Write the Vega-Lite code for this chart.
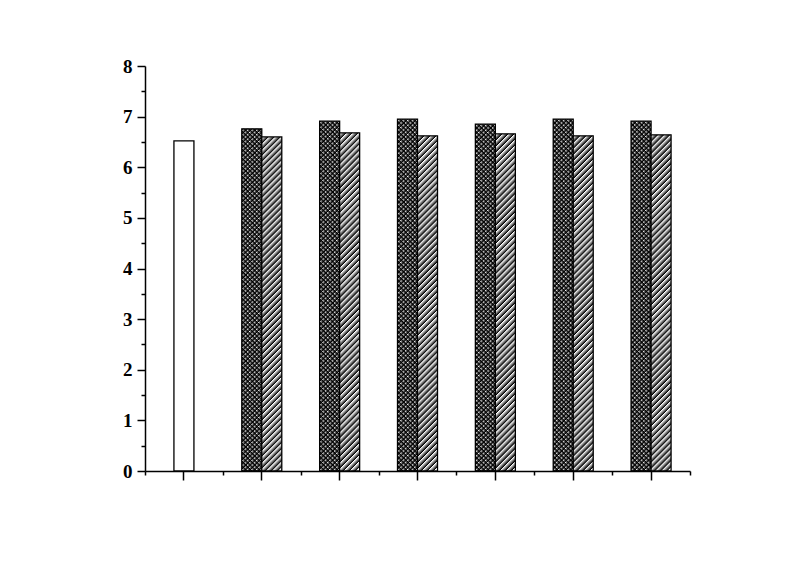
{
"$schema": "https://vega.github.io/schema/vega-lite/v6.json",
"width": 545,
"height": 405,
"autosize": {"type": "none"},
"padding": {"left": 145, "top": 66, "right": 110, "bottom": 94},
"background": "white",
"config": {
  "view": {"stroke": null},
  "axis": {"grid": false, "domainColor": "#000", "tickColor": "#000", "domainWidth": 1.5, "tickWidth": 1.5, "labelColor": "#000", "labelFont": "Liberation Serif", "labelFontWeight": "bold", "labelFontSize": 19}
},
"data": {"values": [
  {"group": "g1", "series": "A", "value": 6.52},
  {"group": "g2", "series": "B", "value": 6.76},
  {"group": "g2", "series": "C", "value": 6.60},
  {"group": "g3", "series": "B", "value": 6.91},
  {"group": "g3", "series": "C", "value": 6.68},
  {"group": "g4", "series": "B", "value": 6.95},
  {"group": "g4", "series": "C", "value": 6.62},
  {"group": "g5", "series": "B", "value": 6.85},
  {"group": "g5", "series": "C", "value": 6.66},
  {"group": "g6", "series": "B", "value": 6.95},
  {"group": "g6", "series": "C", "value": 6.62},
  {"group": "g7", "series": "B", "value": 6.91},
  {"group": "g7", "series": "C", "value": 6.64}
]},
"layer": [
  {
    "transform": [{"filter": "datum.series === 'A'"}],
    "mark": {"type": "bar", "width": 20, "fill": "white", "stroke": "black", "strokeWidth": 1.3},
    "encoding": {
      "x": {"field": "group", "type": "nominal", "scale": {"paddingInner": 0, "paddingOuter": 0}, "axis": {"orient": "bottom", "labels": false, "tickSize": 9, "title": null}},
      "y": {"field": "value", "type": "quantitative", "scale": {"domain": [0, 8], "nice": false}, "axis": {"orient": "left", "values": [0,1,2,3,4,5,6,7,8], "tickSize": 8, "labelPadding": 5, "title": null}}
    }
  },
  {
    "transform": [{"filter": "datum.series === 'B'"}],
    "mark": {"type": "bar", "width": 20, "xOffset": -10, "stroke": null,
      "fill": {"gradient": "linear", "x1": 0, "y1": 0, "x2": 0.0608, "y2": 1.0542, "stops": [
{"offset":0,"color":"transparent"},
{"offset":0.003,"color":"#000"},{"offset":0.006,"color":"transparent"},{"offset":0.0155,"color":"#000"},{"offset":0.0185,"color":"transparent"},{"offset":0.028,"color":"#000"},{"offset":0.031,"color":"transparent"},{"offset":0.0405,"color":"#000"},{"offset":0.0435,"color":"transparent"},{"offset":0.053,"color":"#000"},{"offset":0.056,"color":"transparent"},{"offset":0.0655,"color":"#000"},{"offset":0.0685,"color":"transparent"},{"offset":0.078,"color":"#000"},{"offset":0.081,"color":"transparent"},{"offset":0.0905,"color":"#000"},{"offset":0.0935,"color":"transparent"},
{"offset":0.103,"color":"#000"},{"offset":0.106,"color":"transparent"},{"offset":0.1155,"color":"#000"},{"offset":0.1185,"color":"transparent"},{"offset":0.128,"color":"#000"},{"offset":0.131,"color":"transparent"},{"offset":0.1405,"color":"#000"},{"offset":0.1435,"color":"transparent"},{"offset":0.153,"color":"#000"},{"offset":0.156,"color":"transparent"},{"offset":0.1655,"color":"#000"},{"offset":0.1685,"color":"transparent"},{"offset":0.178,"color":"#000"},{"offset":0.181,"color":"transparent"},{"offset":0.1905,"color":"#000"},{"offset":0.1935,"color":"transparent"},
{"offset":0.203,"color":"#000"},{"offset":0.206,"color":"transparent"},{"offset":0.2155,"color":"#000"},{"offset":0.2185,"color":"transparent"},{"offset":0.228,"color":"#000"},{"offset":0.231,"color":"transparent"},{"offset":0.2405,"color":"#000"},{"offset":0.2435,"color":"transparent"},{"offset":0.253,"color":"#000"},{"offset":0.256,"color":"transparent"},{"offset":0.2655,"color":"#000"},{"offset":0.2685,"color":"transparent"},{"offset":0.278,"color":"#000"},{"offset":0.281,"color":"transparent"},{"offset":0.2905,"color":"#000"},{"offset":0.2935,"color":"transparent"},
{"offset":0.303,"color":"#000"},{"offset":0.306,"color":"transparent"},{"offset":0.3155,"color":"#000"},{"offset":0.3185,"color":"transparent"},{"offset":0.328,"color":"#000"},{"offset":0.331,"color":"transparent"},{"offset":0.3405,"color":"#000"},{"offset":0.3435,"color":"transparent"},{"offset":0.353,"color":"#000"},{"offset":0.356,"color":"transparent"},{"offset":0.3655,"color":"#000"},{"offset":0.3685,"color":"transparent"},{"offset":0.378,"color":"#000"},{"offset":0.381,"color":"transparent"},{"offset":0.3905,"color":"#000"},{"offset":0.3935,"color":"transparent"},
{"offset":0.403,"color":"#000"},{"offset":0.406,"color":"transparent"},{"offset":0.4155,"color":"#000"},{"offset":0.4185,"color":"transparent"},{"offset":0.428,"color":"#000"},{"offset":0.431,"color":"transparent"},{"offset":0.4405,"color":"#000"},{"offset":0.4435,"color":"transparent"},{"offset":0.453,"color":"#000"},{"offset":0.456,"color":"transparent"},{"offset":0.4655,"color":"#000"},{"offset":0.4685,"color":"transparent"},{"offset":0.478,"color":"#000"},{"offset":0.481,"color":"transparent"},{"offset":0.4905,"color":"#000"},{"offset":0.4935,"color":"transparent"},
{"offset":0.503,"color":"#000"},{"offset":0.506,"color":"transparent"},{"offset":0.5155,"color":"#000"},{"offset":0.5185,"color":"transparent"},{"offset":0.528,"color":"#000"},{"offset":0.531,"color":"transparent"},{"offset":0.5405,"color":"#000"},{"offset":0.5435,"color":"transparent"},{"offset":0.553,"color":"#000"},{"offset":0.556,"color":"transparent"},{"offset":0.5655,"color":"#000"},{"offset":0.5685,"color":"transparent"},{"offset":0.578,"color":"#000"},{"offset":0.581,"color":"transparent"},{"offset":0.5905,"color":"#000"},{"offset":0.5935,"color":"transparent"},
{"offset":0.603,"color":"#000"},{"offset":0.606,"color":"transparent"},{"offset":0.6155,"color":"#000"},{"offset":0.6185,"color":"transparent"},{"offset":0.628,"color":"#000"},{"offset":0.631,"color":"transparent"},{"offset":0.6405,"color":"#000"},{"offset":0.6435,"color":"transparent"},{"offset":0.653,"color":"#000"},{"offset":0.656,"color":"transparent"},{"offset":0.6655,"color":"#000"},{"offset":0.6685,"color":"transparent"},{"offset":0.678,"color":"#000"},{"offset":0.681,"color":"transparent"},{"offset":0.6905,"color":"#000"},{"offset":0.6935,"color":"transparent"},
{"offset":0.703,"color":"#000"},{"offset":0.706,"color":"transparent"},{"offset":0.7155,"color":"#000"},{"offset":0.7185,"color":"transparent"},{"offset":0.728,"color":"#000"},{"offset":0.731,"color":"transparent"},{"offset":0.7405,"color":"#000"},{"offset":0.7435,"color":"transparent"},{"offset":0.753,"color":"#000"},{"offset":0.756,"color":"transparent"},{"offset":0.7655,"color":"#000"},{"offset":0.7685,"color":"transparent"},{"offset":0.778,"color":"#000"},{"offset":0.781,"color":"transparent"},{"offset":0.7905,"color":"#000"},{"offset":0.7935,"color":"transparent"},
{"offset":0.803,"color":"#000"},{"offset":0.806,"color":"transparent"},{"offset":0.8155,"color":"#000"},{"offset":0.8185,"color":"transparent"},{"offset":0.828,"color":"#000"},{"offset":0.831,"color":"transparent"},{"offset":0.8405,"color":"#000"},{"offset":0.8435,"color":"transparent"},{"offset":0.853,"color":"#000"},{"offset":0.856,"color":"transparent"},{"offset":0.8655,"color":"#000"},{"offset":0.8685,"color":"transparent"},{"offset":0.878,"color":"#000"},{"offset":0.881,"color":"transparent"},{"offset":0.8905,"color":"#000"},{"offset":0.8935,"color":"transparent"},
{"offset":0.903,"color":"#000"},{"offset":0.906,"color":"transparent"},{"offset":0.9155,"color":"#000"},{"offset":0.9185,"color":"transparent"},{"offset":0.928,"color":"#000"},{"offset":0.931,"color":"transparent"},{"offset":0.9405,"color":"#000"},{"offset":0.9435,"color":"transparent"},{"offset":0.953,"color":"#000"},{"offset":0.956,"color":"transparent"},{"offset":0.9655,"color":"#000"},{"offset":0.9685,"color":"transparent"},{"offset":0.978,"color":"#000"},{"offset":0.981,"color":"transparent"},{"offset":0.9905,"color":"#000"},{"offset":0.9935,"color":"transparent"}
      ]}},
    "encoding": {
      "x": {"field": "group", "type": "nominal", "axis": {"orient": "bottom", "labels": false, "tickSize": 4, "tickBand": "extent", "domain": false, "title": null}},
      "y": {"field": "value", "type": "quantitative", "axis": {"orient": "left", "values": [0.5,1.5,2.5,3.5,4.5,5.5,6.5,7.5], "tickSize": 4, "labels": false, "domain": false, "title": null}}
    }
  },
  {
    "transform": [{"filter": "datum.series === 'B'"}],
    "mark": {"type": "bar", "width": 20, "xOffset": -10, "stroke": "black", "strokeWidth": 1.3,
      "fill": {"gradient": "linear", "x1": 0, "y1": 1, "x2": 0.0608, "y2": -0.0542, "stops": [
{"offset":0,"color":"transparent"},
{"offset":0.003,"color":"#000"},{"offset":0.006,"color":"transparent"},{"offset":0.0155,"color":"#000"},{"offset":0.0185,"color":"transparent"},{"offset":0.028,"color":"#000"},{"offset":0.031,"color":"transparent"},{"offset":0.0405,"color":"#000"},{"offset":0.0435,"color":"transparent"},{"offset":0.053,"color":"#000"},{"offset":0.056,"color":"transparent"},{"offset":0.0655,"color":"#000"},{"offset":0.0685,"color":"transparent"},{"offset":0.078,"color":"#000"},{"offset":0.081,"color":"transparent"},{"offset":0.0905,"color":"#000"},{"offset":0.0935,"color":"transparent"},
{"offset":0.103,"color":"#000"},{"offset":0.106,"color":"transparent"},{"offset":0.1155,"color":"#000"},{"offset":0.1185,"color":"transparent"},{"offset":0.128,"color":"#000"},{"offset":0.131,"color":"transparent"},{"offset":0.1405,"color":"#000"},{"offset":0.1435,"color":"transparent"},{"offset":0.153,"color":"#000"},{"offset":0.156,"color":"transparent"},{"offset":0.1655,"color":"#000"},{"offset":0.1685,"color":"transparent"},{"offset":0.178,"color":"#000"},{"offset":0.181,"color":"transparent"},{"offset":0.1905,"color":"#000"},{"offset":0.1935,"color":"transparent"},
{"offset":0.203,"color":"#000"},{"offset":0.206,"color":"transparent"},{"offset":0.2155,"color":"#000"},{"offset":0.2185,"color":"transparent"},{"offset":0.228,"color":"#000"},{"offset":0.231,"color":"transparent"},{"offset":0.2405,"color":"#000"},{"offset":0.2435,"color":"transparent"},{"offset":0.253,"color":"#000"},{"offset":0.256,"color":"transparent"},{"offset":0.2655,"color":"#000"},{"offset":0.2685,"color":"transparent"},{"offset":0.278,"color":"#000"},{"offset":0.281,"color":"transparent"},{"offset":0.2905,"color":"#000"},{"offset":0.2935,"color":"transparent"},
{"offset":0.303,"color":"#000"},{"offset":0.306,"color":"transparent"},{"offset":0.3155,"color":"#000"},{"offset":0.3185,"color":"transparent"},{"offset":0.328,"color":"#000"},{"offset":0.331,"color":"transparent"},{"offset":0.3405,"color":"#000"},{"offset":0.3435,"color":"transparent"},{"offset":0.353,"color":"#000"},{"offset":0.356,"color":"transparent"},{"offset":0.3655,"color":"#000"},{"offset":0.3685,"color":"transparent"},{"offset":0.378,"color":"#000"},{"offset":0.381,"color":"transparent"},{"offset":0.3905,"color":"#000"},{"offset":0.3935,"color":"transparent"},
{"offset":0.403,"color":"#000"},{"offset":0.406,"color":"transparent"},{"offset":0.4155,"color":"#000"},{"offset":0.4185,"color":"transparent"},{"offset":0.428,"color":"#000"},{"offset":0.431,"color":"transparent"},{"offset":0.4405,"color":"#000"},{"offset":0.4435,"color":"transparent"},{"offset":0.453,"color":"#000"},{"offset":0.456,"color":"transparent"},{"offset":0.4655,"color":"#000"},{"offset":0.4685,"color":"transparent"},{"offset":0.478,"color":"#000"},{"offset":0.481,"color":"transparent"},{"offset":0.4905,"color":"#000"},{"offset":0.4935,"color":"transparent"},
{"offset":0.503,"color":"#000"},{"offset":0.506,"color":"transparent"},{"offset":0.5155,"color":"#000"},{"offset":0.5185,"color":"transparent"},{"offset":0.528,"color":"#000"},{"offset":0.531,"color":"transparent"},{"offset":0.5405,"color":"#000"},{"offset":0.5435,"color":"transparent"},{"offset":0.553,"color":"#000"},{"offset":0.556,"color":"transparent"},{"offset":0.5655,"color":"#000"},{"offset":0.5685,"color":"transparent"},{"offset":0.578,"color":"#000"},{"offset":0.581,"color":"transparent"},{"offset":0.5905,"color":"#000"},{"offset":0.5935,"color":"transparent"},
{"offset":0.603,"color":"#000"},{"offset":0.606,"color":"transparent"},{"offset":0.6155,"color":"#000"},{"offset":0.6185,"color":"transparent"},{"offset":0.628,"color":"#000"},{"offset":0.631,"color":"transparent"},{"offset":0.6405,"color":"#000"},{"offset":0.6435,"color":"transparent"},{"offset":0.653,"color":"#000"},{"offset":0.656,"color":"transparent"},{"offset":0.6655,"color":"#000"},{"offset":0.6685,"color":"transparent"},{"offset":0.678,"color":"#000"},{"offset":0.681,"color":"transparent"},{"offset":0.6905,"color":"#000"},{"offset":0.6935,"color":"transparent"},
{"offset":0.703,"color":"#000"},{"offset":0.706,"color":"transparent"},{"offset":0.7155,"color":"#000"},{"offset":0.7185,"color":"transparent"},{"offset":0.728,"color":"#000"},{"offset":0.731,"color":"transparent"},{"offset":0.7405,"color":"#000"},{"offset":0.7435,"color":"transparent"},{"offset":0.753,"color":"#000"},{"offset":0.756,"color":"transparent"},{"offset":0.7655,"color":"#000"},{"offset":0.7685,"color":"transparent"},{"offset":0.778,"color":"#000"},{"offset":0.781,"color":"transparent"},{"offset":0.7905,"color":"#000"},{"offset":0.7935,"color":"transparent"},
{"offset":0.803,"color":"#000"},{"offset":0.806,"color":"transparent"},{"offset":0.8155,"color":"#000"},{"offset":0.8185,"color":"transparent"},{"offset":0.828,"color":"#000"},{"offset":0.831,"color":"transparent"},{"offset":0.8405,"color":"#000"},{"offset":0.8435,"color":"transparent"},{"offset":0.853,"color":"#000"},{"offset":0.856,"color":"transparent"},{"offset":0.8655,"color":"#000"},{"offset":0.8685,"color":"transparent"},{"offset":0.878,"color":"#000"},{"offset":0.881,"color":"transparent"},{"offset":0.8905,"color":"#000"},{"offset":0.8935,"color":"transparent"},
{"offset":0.903,"color":"#000"},{"offset":0.906,"color":"transparent"},{"offset":0.9155,"color":"#000"},{"offset":0.9185,"color":"transparent"},{"offset":0.928,"color":"#000"},{"offset":0.931,"color":"transparent"},{"offset":0.9405,"color":"#000"},{"offset":0.9435,"color":"transparent"},{"offset":0.953,"color":"#000"},{"offset":0.956,"color":"transparent"},{"offset":0.9655,"color":"#000"},{"offset":0.9685,"color":"transparent"},{"offset":0.978,"color":"#000"},{"offset":0.981,"color":"transparent"},{"offset":0.9905,"color":"#000"},{"offset":0.9935,"color":"transparent"}
      ]}},
    "encoding": {
      "x": {"field": "group", "type": "nominal", "axis": null},
      "y": {"field": "value", "type": "quantitative", "axis": null}
    }
  },
  {
    "transform": [{"filter": "datum.series === 'C'"}],
    "mark": {"type": "bar", "width": 20, "xOffset": 10, "stroke": "black", "strokeWidth": 1.3,
      "fill": {"gradient": "linear", "x1": 0, "y1": 0, "x2": 0.0628, "y2": 1.0558, "stops": [
{"offset":0,"color":"white"},
{"offset":0.002,"color":"#000"},{"offset":0.004,"color":"white"},{"offset":0.019,"color":"#000"},{"offset":0.021,"color":"white"},{"offset":0.036,"color":"#000"},{"offset":0.038,"color":"white"},{"offset":0.053,"color":"#000"},{"offset":0.055,"color":"white"},{"offset":0.07,"color":"#000"},{"offset":0.072,"color":"white"},{"offset":0.087,"color":"#000"},{"offset":0.089,"color":"white"},
{"offset":0.104,"color":"#000"},{"offset":0.106,"color":"white"},{"offset":0.121,"color":"#000"},{"offset":0.123,"color":"white"},{"offset":0.138,"color":"#000"},{"offset":0.14,"color":"white"},{"offset":0.155,"color":"#000"},{"offset":0.157,"color":"white"},{"offset":0.172,"color":"#000"},{"offset":0.174,"color":"white"},{"offset":0.189,"color":"#000"},{"offset":0.191,"color":"white"},
{"offset":0.206,"color":"#000"},{"offset":0.208,"color":"white"},{"offset":0.223,"color":"#000"},{"offset":0.225,"color":"white"},{"offset":0.24,"color":"#000"},{"offset":0.242,"color":"white"},{"offset":0.257,"color":"#000"},{"offset":0.259,"color":"white"},{"offset":0.274,"color":"#000"},{"offset":0.276,"color":"white"},{"offset":0.291,"color":"#000"},{"offset":0.293,"color":"white"},
{"offset":0.308,"color":"#000"},{"offset":0.31,"color":"white"},{"offset":0.325,"color":"#000"},{"offset":0.327,"color":"white"},{"offset":0.342,"color":"#000"},{"offset":0.344,"color":"white"},{"offset":0.359,"color":"#000"},{"offset":0.361,"color":"white"},{"offset":0.376,"color":"#000"},{"offset":0.378,"color":"white"},{"offset":0.393,"color":"#000"},{"offset":0.395,"color":"white"},
{"offset":0.41,"color":"#000"},{"offset":0.412,"color":"white"},{"offset":0.427,"color":"#000"},{"offset":0.429,"color":"white"},{"offset":0.444,"color":"#000"},{"offset":0.446,"color":"white"},{"offset":0.461,"color":"#000"},{"offset":0.463,"color":"white"},{"offset":0.478,"color":"#000"},{"offset":0.48,"color":"white"},{"offset":0.495,"color":"#000"},{"offset":0.497,"color":"white"},
{"offset":0.512,"color":"#000"},{"offset":0.514,"color":"white"},{"offset":0.529,"color":"#000"},{"offset":0.531,"color":"white"},{"offset":0.546,"color":"#000"},{"offset":0.548,"color":"white"},{"offset":0.563,"color":"#000"},{"offset":0.565,"color":"white"},{"offset":0.58,"color":"#000"},{"offset":0.582,"color":"white"},{"offset":0.597,"color":"#000"},{"offset":0.599,"color":"white"},
{"offset":0.614,"color":"#000"},{"offset":0.616,"color":"white"},{"offset":0.631,"color":"#000"},{"offset":0.633,"color":"white"},{"offset":0.648,"color":"#000"},{"offset":0.65,"color":"white"},{"offset":0.665,"color":"#000"},{"offset":0.667,"color":"white"},{"offset":0.682,"color":"#000"},{"offset":0.684,"color":"white"},{"offset":0.699,"color":"#000"},{"offset":0.701,"color":"white"},
{"offset":0.716,"color":"#000"},{"offset":0.718,"color":"white"},{"offset":0.733,"color":"#000"},{"offset":0.735,"color":"white"},{"offset":0.75,"color":"#000"},{"offset":0.752,"color":"white"},{"offset":0.767,"color":"#000"},{"offset":0.769,"color":"white"},{"offset":0.784,"color":"#000"},{"offset":0.786,"color":"white"},{"offset":0.801,"color":"#000"},{"offset":0.803,"color":"white"},
{"offset":0.818,"color":"#000"},{"offset":0.82,"color":"white"},{"offset":0.835,"color":"#000"},{"offset":0.837,"color":"white"},{"offset":0.852,"color":"#000"},{"offset":0.854,"color":"white"},{"offset":0.869,"color":"#000"},{"offset":0.871,"color":"white"},{"offset":0.886,"color":"#000"},{"offset":0.888,"color":"white"},{"offset":0.903,"color":"#000"},{"offset":0.905,"color":"white"},
{"offset":0.92,"color":"#000"},{"offset":0.922,"color":"white"},{"offset":0.937,"color":"#000"},{"offset":0.939,"color":"white"},{"offset":0.954,"color":"#000"},{"offset":0.956,"color":"white"},{"offset":0.971,"color":"#000"},{"offset":0.973,"color":"white"},{"offset":0.988,"color":"#000"},{"offset":0.99,"color":"white"}
      ]}},
    "encoding": {
      "x": {"field": "group", "type": "nominal", "axis": null},
      "y": {"field": "value", "type": "quantitative", "axis": null}
    }
  }
],
"resolve": {"axis": {"x": "independent", "y": "independent"}}
}
